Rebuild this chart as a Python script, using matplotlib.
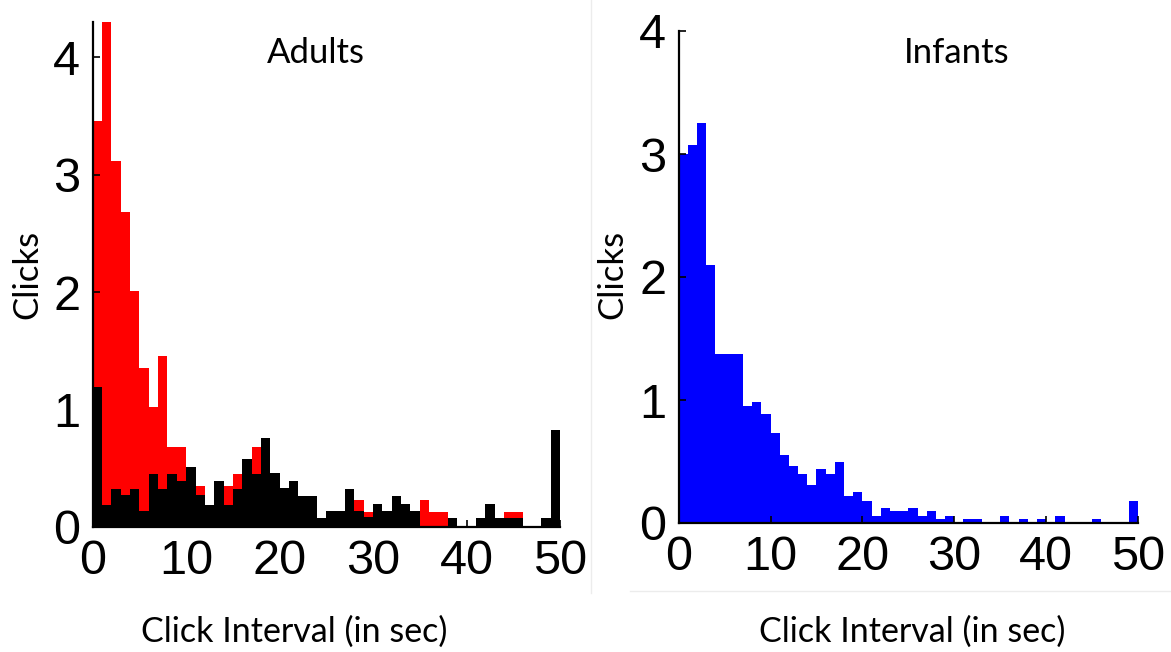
import numpy as np
import matplotlib
matplotlib.use("Agg")
import matplotlib.pyplot as plt
from matplotlib.lines import Line2D

# bin left edges, 1 sec wide
bin_edges = np.arange(0, 50)

# Adults: red = all clicks, black = second group drawn on top
adults_red = [3.46, 4.60, 3.12, 2.68, 2.01, 1.35, 1.02, 1.46, 0.68, 0.68,
              0.51, 0.35, 0.19, 0.39, 0.35, 0.45, 0.58, 0.68, 0.76, 0.46,
              0.33, 0.39, 0.26, 0.26, 0.08, 0.14, 0.14, 0.32, 0.23, 0.13,
              0.20, 0.14, 0.26, 0.20, 0.14, 0.23, 0.13, 0.13, 0.08, 0.00,
              0.00, 0.08, 0.20, 0.08, 0.125, 0.125, 0.00, 0.00, 0.08, 0.83]
adults_black = [1.19, 0.19, 0.32, 0.27, 0.32, 0.14, 0.45, 0.32, 0.45, 0.39,
                0.51, 0.27, 0.19, 0.39, 0.19, 0.32, 0.58, 0.45, 0.76, 0.46,
                0.33, 0.39, 0.26, 0.26, 0.08, 0.14, 0.14, 0.32, 0.14, 0.085,
                0.20, 0.14, 0.26, 0.20, 0.14, 0.00, 0.00, 0.00, 0.08, 0.00,
                0.00, 0.08, 0.20, 0.08, 0.08, 0.08, 0.00, 0.00, 0.08, 0.83]

# Infants
infants_blue = [3.00, 3.07, 3.25, 2.10, 1.37, 1.37, 1.37, 0.95, 0.98, 0.89,
                0.735, 0.55, 0.46, 0.40, 0.31, 0.44, 0.40, 0.50, 0.22, 0.25,
                0.18, 0.06, 0.12, 0.095, 0.095, 0.12, 0.06, 0.095, 0.03, 0.06,
                0.00, 0.03, 0.03, 0.00, 0.00, 0.06, 0.00, 0.03, 0.00, 0.03,
                0.00, 0.06, 0.00, 0.00, 0.00, 0.03, 0.00, 0.00, 0.00, 0.18]

x_ticks = [0, 10, 20, 30, 40, 50]
y_ticks = [0, 1, 2, 3, 4]

TICK_FONT = "Liberation Sans"
LABEL_FONT = "Lato"
W, H = 1171, 652


def px(x, y):
    return x / W, 1 - y / H


def style_axes(axes, ylim_top):
    axes.set_xlim(0, 50)
    axes.set_ylim(0, ylim_top)
    axes.set_xticks(x_ticks)
    axes.set_yticks(y_ticks)
    for side in ("top", "right"):
        axes.spines[side].set_visible(False)
    for side in ("left", "bottom"):
        axes.spines[side].set_linewidth(1.6)
        axes.spines[side].set_zorder(5)
    axes.tick_params(direction="in", length=5, width=1.2, labelsize=35, pad=9)
    for lab in axes.get_xticklabels() + axes.get_yticklabels():
        lab.set_family(TICK_FONT)


fig = plt.figure(figsize=(W / 100, H / 100), dpi=100)

# left panel
ax1 = fig.add_axes([92.7 / W, 1 - 527 / H, (560 - 92.7) / W, (527 - 22) / H])
ax1.bar(bin_edges, adults_red, width=1, align="edge", color="#ff0000", linewidth=0)
ax1.bar(bin_edges, adults_black, width=1, align="edge", color="black", linewidth=0)
style_axes(ax1, 4.3)

# right panel
ax2 = fig.add_axes([678.7 / W, 1 - 523 / H, (1138 - 678.7) / W, (523 - 31) / H])
ax2.bar(bin_edges, infants_blue, width=1, align="edge", color="#0000ff", linewidth=0)
style_axes(ax2, 4.0)

# texts
fig.text(*px(316, 53), "Adults", ha="center", va="center", fontsize=25, family=LABEL_FONT)
fig.text(*px(957, 53), "Infants", ha="center", va="center", fontsize=25, family=LABEL_FONT)
fig.text(*px(27, 274), "Clicks", ha="center", va="center", rotation=90, fontsize=25, family=LABEL_FONT)
fig.text(*px(612, 274), "Clicks", ha="center", va="center", rotation=90, fontsize=25, family=LABEL_FONT)
fig.text(*px(294, 632), "Click Interval (in sec)", ha="center", va="center", fontsize=24.5, family=LABEL_FONT)
fig.text(*px(912, 632), "Click Interval (in sec)", ha="center", va="center", fontsize=24.5, family=LABEL_FONT)

# faint panel borders from the pasted images
fig.add_artist(Line2D([590.7 / W, 590.7 / W], [1, 1 - 593 / H], transform=fig.transFigure, color="#ececec", lw=1))
fig.add_artist(Line2D([630 / W, 1], [1 - 590.7 / H, 1 - 590.7 / H], transform=fig.transFigure, color="#ececec", lw=1))

plt.savefig("out.png", dpi=100)
plt.close()
